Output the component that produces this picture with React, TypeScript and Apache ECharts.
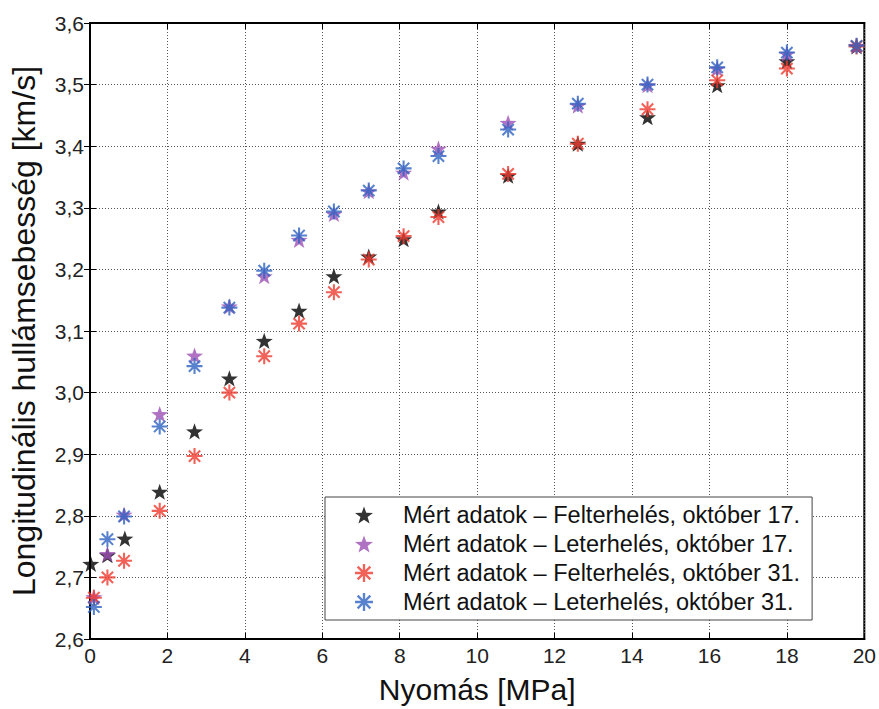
import React, { useEffect, useRef } from "react";
import * as echarts from "echarts";

// ---- Data ----
const pressureFel17 = [0.02, 0.45, 0.9, 1.8, 2.7, 3.6, 4.5, 5.4, 6.3, 7.2, 8.1, 9.0, 10.8, 12.6, 14.4, 16.2, 18.0, 19.8];
const pressure = [0.1, 0.45, 0.88, 1.8, 2.7, 3.6, 4.5, 5.4, 6.3, 7.2, 8.1, 9.0, 10.8, 12.6, 14.4, 16.2, 18.0, 19.8];

const fel17 = [2.722, 2.736, 2.763, 2.839, 2.937, 3.023, 3.084, 3.133, 3.189, 3.221, 3.249, 3.294, 3.352, 3.404, 3.447, 3.499, 3.538, 3.562];
const le17 = [2.668, 2.738, 2.802, 2.965, 3.060, 3.140, 3.189, 3.248, 3.290, 3.327, 3.357, 3.396, 3.438, 3.466, 3.499, 3.526, 3.550, 3.563];
const fel31 = [2.667, 2.700, 2.727, 2.808, 2.897, 3.000, 3.059, 3.112, 3.163, 3.216, 3.254, 3.285, 3.355, 3.404, 3.460, 3.507, 3.526, 3.562];
const le31 = [2.652, 2.762, 2.799, 2.945, 3.043, 3.138, 3.198, 3.255, 3.294, 3.328, 3.364, 3.384, 3.427, 3.469, 3.500, 3.528, 3.552, 3.563];

const seriesNames = [
  "Mért adatok – Felterhelés, október 17.",
  "Mért adatok – Leterhelés, október 17.",
  "Mért adatok – Felterhelés, október 31.",
  "Mért adatok – Leterhelés, október 31.",
];

const xMin = 0;
const xMax = 20;
const xStep = 2;
const yMin = 2.6;
const yMax = 3.6;
const yStep = 0.1;

// ---- Symbols ----
const starPath = (() => {
  const pts: string[] = [];
  for (let k = 0; k < 10; k++) {
    const a = ((-90 + 36 * k) * Math.PI) / 180;
    const r = k % 2 === 0 ? 10 : 4;
    pts.push((r * Math.cos(a)).toFixed(3) + " " + (r * Math.sin(a)).toFixed(3));
  }
  return "path://M" + pts.join(" L") + " Z";
})();

const asteriskPath = (() => {
  const L = 10;
  const t = 1.3;
  let d = "";
  [0, 45, 90, 135].forEach((deg) => {
    const a = (deg * Math.PI) / 180;
    const dx = Math.cos(a), dy = Math.sin(a);
    const nx = -dy, ny = dx;
    const p = [
      [-L * dx - t * nx, -L * dy - t * ny],
      [L * dx - t * nx, L * dy - t * ny],
      [L * dx + t * nx, L * dy + t * ny],
      [-L * dx + t * nx, -L * dy + t * ny],
    ];
    d += "M" + p.map((q) => q[0].toFixed(3) + " " + q[1].toFixed(3)).join(" L") + " Z ";
  });
  return "path://" + d.trim();
})();

const FONT = "'Liberation Sans', Arial, Helvetica, sans-serif";

export default function App() {
  const ref = useRef<HTMLDivElement>(null);

  useEffect(() => {
    if (!ref.current) return;
    const chart = echarts.init(ref.current, undefined, { renderer: "svg" });

    const mk = (xs: number[], ys: number[]) => xs.map((x, i) => [x, ys[i]]);

    const commonAxisLine = { show: true, lineStyle: { color: "#000", width: 2 } };
    const tick = { show: true, inside: true, length: 6, lineStyle: { color: "#000", width: 1 } };

    chart.setOption({
      animation: false,
      backgroundColor: "#fff",
      textStyle: { fontFamily: FONT },
      grid: {
        left: 88,
        right: 9,
        top: 23,
        bottom: 68,
        show: true,
        borderColor: "#000",
        borderWidth: 2,
        backgroundColor: "#fff",
      },
      legend: {
        orient: "vertical",
        left: 325,
        top: 497,
        itemWidth: 18,
        itemHeight: 18,
        itemGap: 5,
        padding: [6, 12, 6, 30],
        selectedMode: false,
        backgroundColor: "#fff",
        borderColor: "#444",
        borderWidth: 1,
        textStyle: { fontSize: 23.5, color: "#111", fontFamily: FONT, padding: [0, 0, 0, 25] },
        data: seriesNames,
      },
      xAxis: [
        {
          type: "value",
          min: xMin,
          max: xMax,
          interval: xStep,
          position: "bottom",
          name: "Nyomás [MPa]",
          nameLocation: "middle",
          nameGap: 35,
          nameTextStyle: { fontSize: 30, color: "#111", fontFamily: FONT },
          axisLine: commonAxisLine,
          axisTick: tick,
          axisLabel: { fontSize: 21, color: "#222", margin: 6, fontFamily: FONT },
          splitLine: { show: true, lineStyle: { color: "#555", type: [1, 2], width: 1 } },
        },
        {
          type: "value",
          min: xMin,
          max: xMax,
          interval: xStep,
          position: "top",
          axisLine: commonAxisLine,
          axisTick: tick,
          axisLabel: { show: false },
          splitLine: { show: false },
        },
      ],
      yAxis: [
        {
          type: "value",
          min: yMin,
          max: yMax,
          interval: yStep,
          position: "left",
          name: "Longitudinális hullámsebesség [km/s]",
          nameLocation: "middle",
          nameGap: 50,
          nameTextStyle: { fontSize: 32, color: "#111", fontFamily: FONT },
          axisLine: commonAxisLine,
          axisTick: tick,
          axisLabel: {
            fontSize: 21,
            color: "#222",
            margin: 6,
            fontFamily: FONT,
            formatter: (v: number) => v.toFixed(1).replace(".", ","),
          },
          splitLine: { show: true, lineStyle: { color: "#555", type: [1, 2], width: 1 } },
        },
        {
          type: "value",
          min: yMin,
          max: yMax,
          interval: yStep,
          position: "right",
          axisLine: commonAxisLine,
          axisTick: tick,
          axisLabel: { show: false },
          splitLine: { show: false },
        },
      ],
      series: [
        {
          name: seriesNames[0],
          type: "scatter",
          symbol: starPath,
          symbolSize: 17,
          symbolKeepAspect: true,
          itemStyle: { color: "#000000" },
          data: mk(pressureFel17, fel17),
          z: 2,
        },
        {
          name: seriesNames[1],
          type: "scatter",
          symbol: starPath,
          symbolSize: 17,
          symbolKeepAspect: true,
          itemStyle: { color: "#9c4fb3" },
          data: mk(pressure, le17),
          z: 3,
        },
        {
          name: seriesNames[2],
          type: "scatter",
          symbol: asteriskPath,
          symbolSize: 16,
          symbolKeepAspect: true,
          itemStyle: { color: "#ef3a2e" },
          data: mk(pressure, fel31),
          z: 4,
        },
        {
          name: seriesNames[3],
          type: "scatter",
          symbol: asteriskPath,
          symbolSize: 16,
          symbolKeepAspect: true,
          itemStyle: { color: "#2f63c2" },
          data: mk(pressure, le31),
          z: 5,
        },
      ],
    });

    return () => chart.dispose();
  }, []);

  return (
    <div
      ref={ref}
      style={{ position: "fixed", left: 0, top: 0, width: 879, height: 709, background: "#fff" }}
    />
  );
}
